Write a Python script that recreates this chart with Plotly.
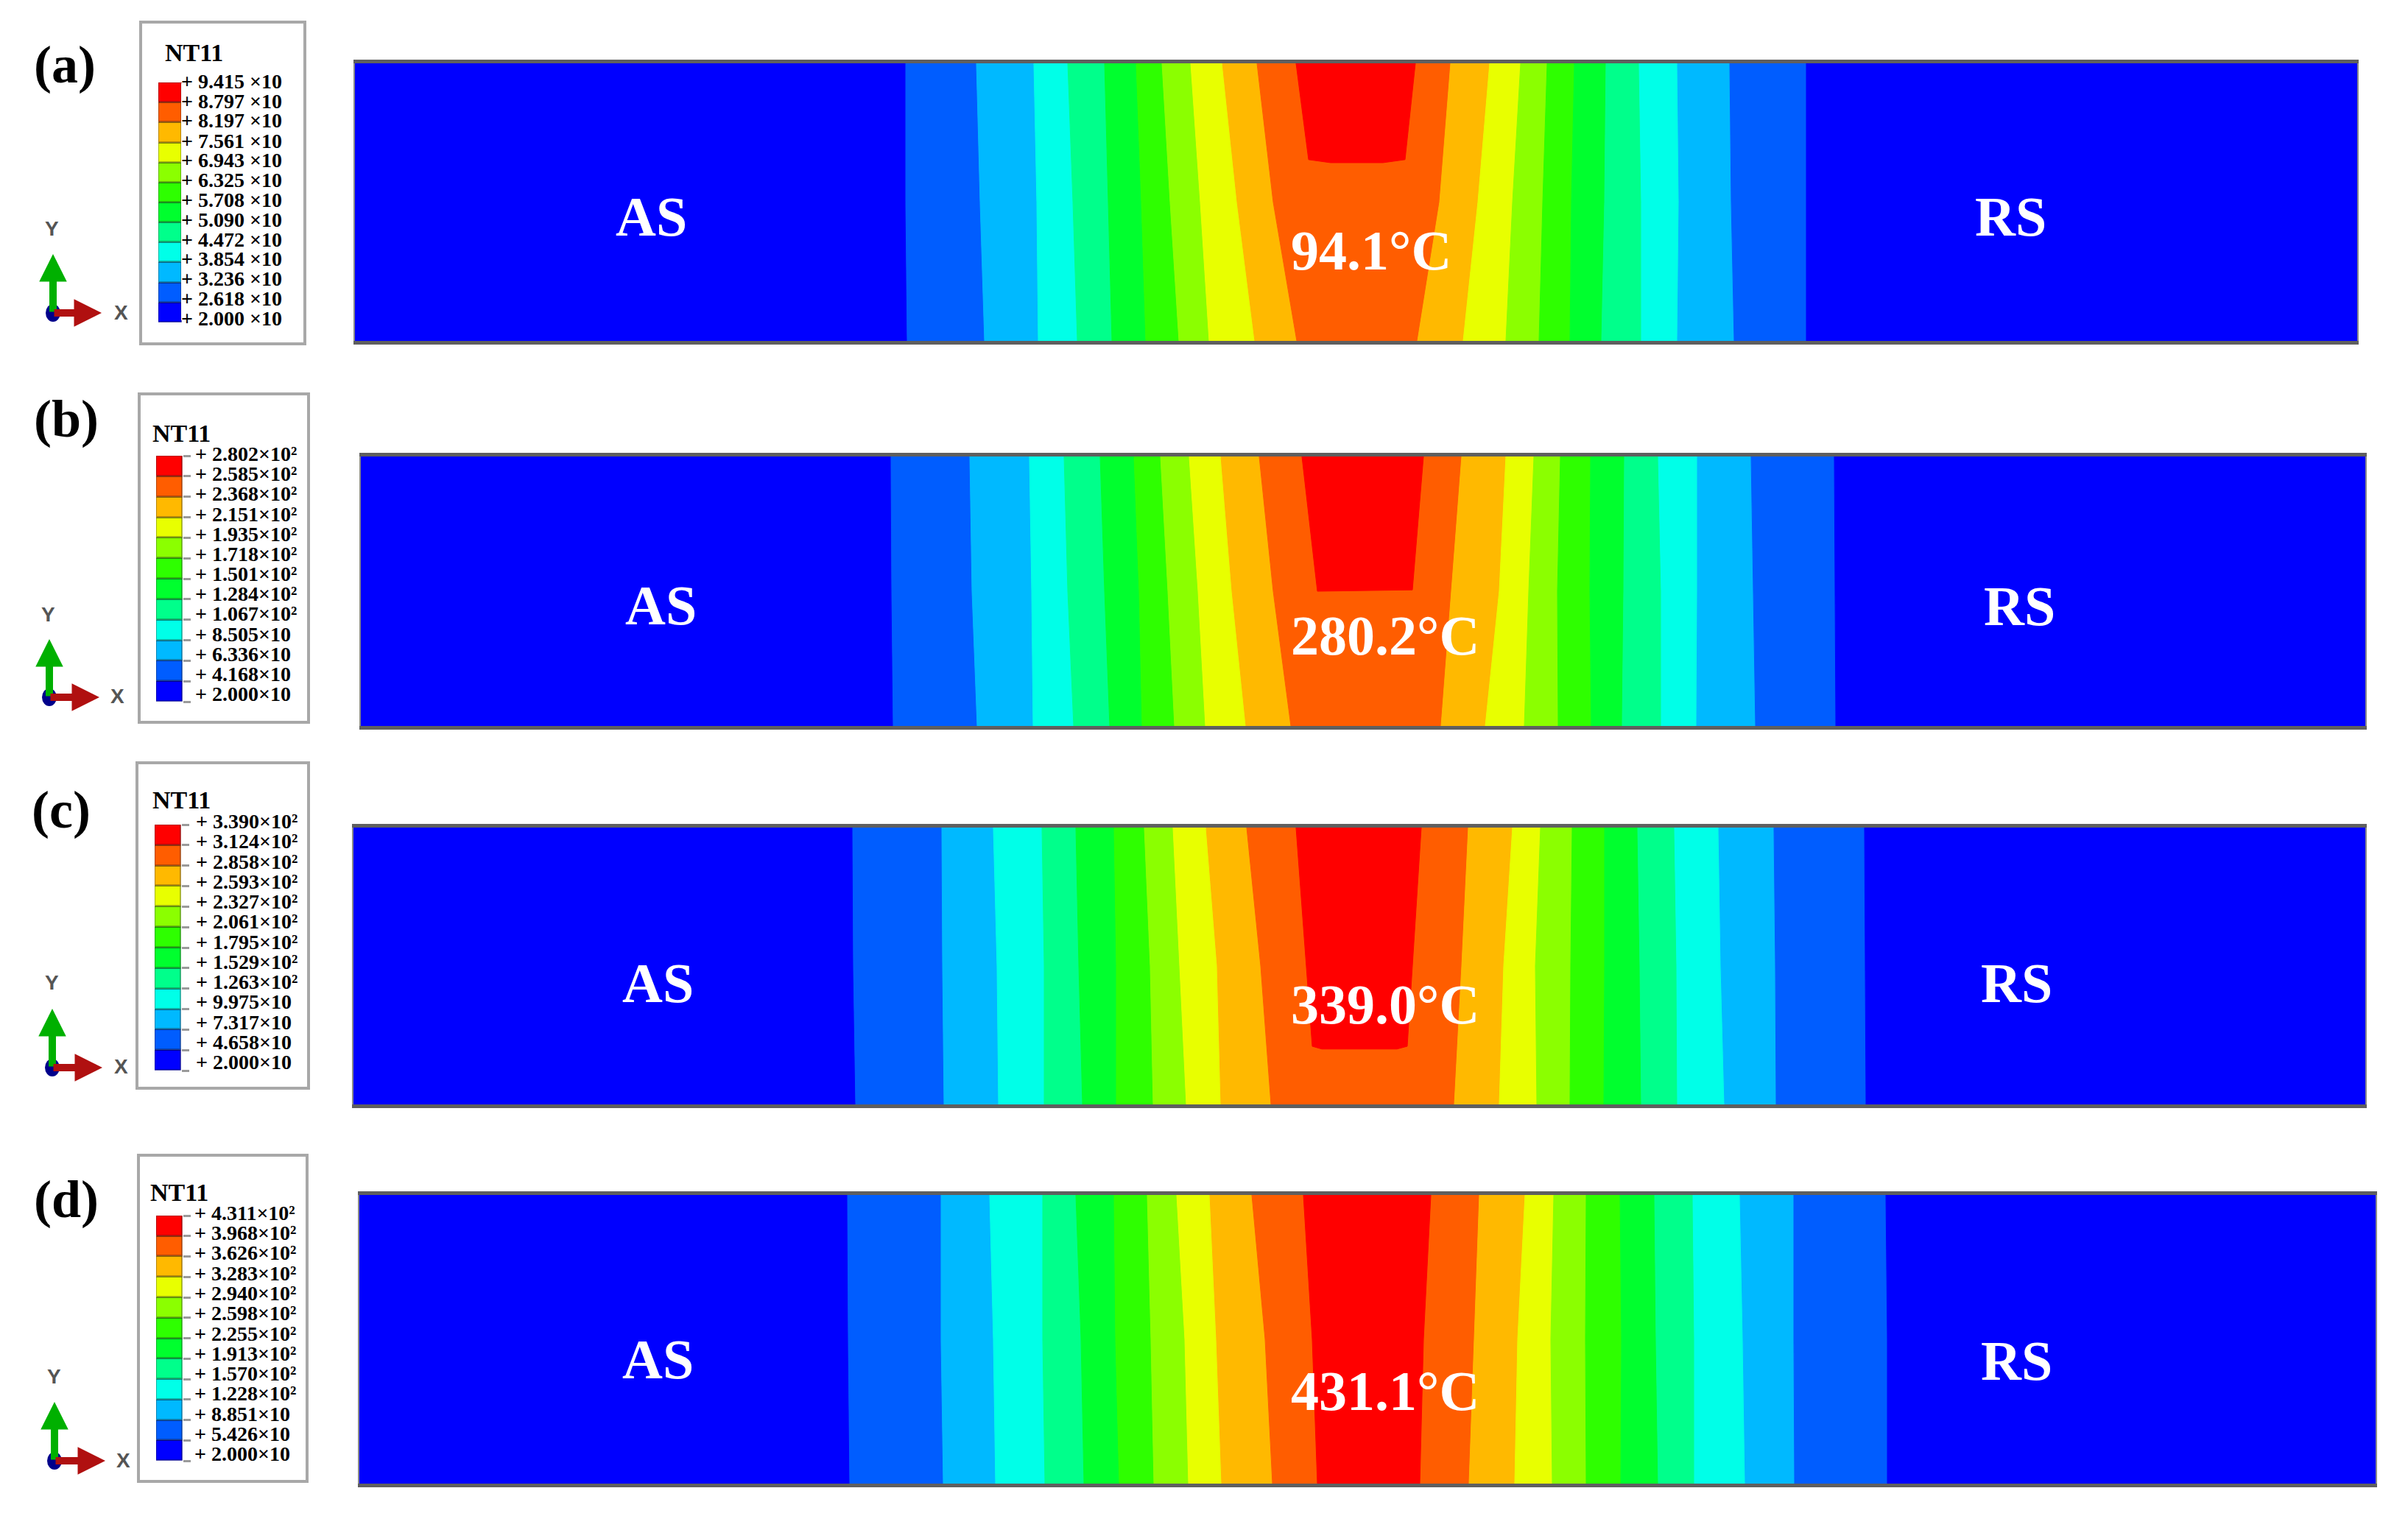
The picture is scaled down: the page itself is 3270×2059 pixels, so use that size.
import plotly.graph_objects as go

W, H = 3270, 2059

# contour band colours, coolest first
band_colors = ['#0000FF', '#005DFF', '#00B9FF', '#00FFE8', '#00FF8B', '#00FF2E',
               '#2EFF00', '#8BFF00', '#E8FF00', '#FFB900', '#FF5D00', '#FF0000']

# depth through the plate where isotherms were read (0 = top, 1 = bottom)
depth = [0, 0.5, 1]

# isotherm x positions in picture pixels, left to right, at each depth
a_top = [1230, 1326, 1404, 1450, 1500, 1543, 1578, 1617, 1660, 1707,
         1970, 2023, 2065, 2101, 2138, 2181, 2226, 2278, 2349, 2453]
a_mid = [1230, 1331, 1408, 1457, 1505, 1550, 1589, 1630, 1680, 1729,
         1955, 2007, 2054, 2095, 2134, 2179, 2229, 2280, 2351, 2453]
a_bot = [1232, 1337, 1410, 1463, 1510, 1556, 1601, 1642, 1704, 1761,
         1925, 1987, 2045, 2090, 2132, 2175, 2229, 2278, 2355, 2453]
b_top = [1210, 1317, 1398, 1445, 1494, 1540, 1576, 1615, 1658, 1710,
         1985, 2045, 2083, 2119, 2160, 2206, 2252, 2305, 2378, 2491]
b_mid = [1211, 1320, 1401, 1450, 1500, 1547, 1586, 1627, 1673, 1729,
         1971, 2036, 2076, 2115, 2159, 2205, 2256, 2305, 2381, 2492]
b_bot = [1213, 1327, 1403, 1458, 1507, 1551, 1595, 1637, 1692, 1753,
         1957, 2017, 2070, 2116, 2161, 2203, 2256, 2304, 2384, 2493]
c_top = [1158, 1279, 1349, 1415, 1461, 1513, 1554, 1593, 1638, 1693,
         1994, 2054, 2092, 2135, 2179, 2224, 2274, 2334, 2409, 2532]
c_mid = [1159, 1280, 1354, 1418, 1465, 1516, 1562, 1602, 1653, 1712,
         1985, 2042, 2085, 2133, 2179, 2227, 2277, 2337, 2411, 2533]
c_bot = [1162, 1282, 1356, 1418, 1470, 1516, 1566, 1611, 1658, 1726,
         1975, 2036, 2087, 2132, 2178, 2229, 2278, 2342, 2412, 2534]
d_top = [1151, 1278, 1344, 1416, 1461, 1513, 1558, 1598, 1643, 1700,
         2009, 2071, 2110, 2154, 2200, 2247, 2299, 2363, 2436, 2561]
d_mid = [1152, 1278, 1349, 1416, 1468, 1515, 1563, 1609, 1652, 1718,
         2002, 2061, 2106, 2153, 2202, 2249, 2301, 2367, 2436, 2563]
d_bot = [1154, 1281, 1352, 1419, 1472, 1520, 1567, 1614, 1659, 1728,
         1995, 2057, 2108, 2154, 2201, 2252, 2301, 2370, 2437, 2563]

# hottest zone outline
a_red_x = [1760, 1777, 1807, 1878, 1908, 1922]
a_red_y = [0, 0.347, 0.358, 0.358, 0.347, 0]
b_red_x = [1768, 1789, 1918, 1933]
b_red_y = [0, 0.5, 0.495, 0]
c_red_x = [1760, 1782, 1795, 1897, 1911, 1930]
c_red_y = [0, 0.79, 0.80, 0.80, 0.79, 0]
d_red_x = [1770, 1782, 1789, 1928, 1933, 1943]
d_red_y = [0, 0.5, 1, 1, 0.5, 0]

# legend levels, coolest first
a_levels = [20.00, 26.18, 32.36, 38.54, 44.72, 50.90, 57.08, 63.25, 69.43, 75.61, 81.97, 87.97, 94.15]
b_levels = [20.00, 41.68, 63.36, 85.05, 106.7, 128.4, 150.1, 171.8, 193.5, 215.1, 236.8, 258.5, 280.2]
c_levels = [20.00, 46.58, 73.17, 99.75, 126.3, 152.9, 179.5, 206.1, 232.7, 259.3, 285.8, 312.4, 339.0]
d_levels = [20.00, 54.26, 88.51, 122.8, 157.0, 191.3, 225.5, 259.8, 294.0, 328.3, 362.6, 396.8, 431.1]

a_labels = ['+ 2.000 ×10', '+ 2.618 ×10', '+ 3.236 ×10', '+ 3.854 ×10', '+ 4.472 ×10', '+ 5.090 ×10', '+ 5.708 ×10',
            '+ 6.325 ×10', '+ 6.943 ×10', '+ 7.561 ×10', '+ 8.197 ×10', '+ 8.797 ×10', '+ 9.415 ×10']
b_labels = ['+ 2.000×10', '+ 4.168×10', '+ 6.336×10', '+ 8.505×10', '+ 1.067×10²', '+ 1.284×10²', '+ 1.501×10²',
            '+ 1.718×10²', '+ 1.935×10²', '+ 2.151×10²', '+ 2.368×10²', '+ 2.585×10²', '+ 2.802×10²']
c_labels = ['+ 2.000×10', '+ 4.658×10', '+ 7.317×10', '+ 9.975×10', '+ 1.263×10²', '+ 1.529×10²', '+ 1.795×10²',
            '+ 2.061×10²', '+ 2.327×10²', '+ 2.593×10²', '+ 2.858×10²', '+ 3.124×10²', '+ 3.390×10²']
d_labels = ['+ 2.000×10', '+ 5.426×10', '+ 8.851×10', '+ 1.228×10²', '+ 1.570×10²', '+ 1.913×10²', '+ 2.255×10²',
            '+ 2.598×10²', '+ 2.940×10²', '+ 3.283×10²', '+ 3.626×10²', '+ 3.968×10²', '+ 4.311×10²']

peak_labels = ['94.1°C', '280.2°C', '339.0°C', '431.1°C']
panel_labels = ['(a)', '(b)', '(c)', '(d)']

# page layout, all in picture pixels
panels = [
    dict(iso=(a_top, a_mid, a_bot), red=(a_red_x, a_red_y), levels=a_levels, labels=a_labels,
         plate=(482, 3201, 86, 463), as_pos=(884, 0.552), rs_pos=(2730, 0.552), peak_pos=(1862, 0.674),
         tag=(88, 88), box=(191, 414, 30, 467), title=(263, 72), bar=(215, 247, 112, 438),
         text=(246, 113, 435), ticklen=0, origin=(72, 425), y_tip=345, x_tip=138, y_lab=(70, 310), x_lab=(164, 424)),
    dict(iso=(b_top, b_mid, b_bot), red=(b_red_x, b_red_y), levels=b_levels, labels=b_labels,
         plate=(490, 3212, 620, 986), as_pos=(897, 0.552), rs_pos=(2742, 0.555), peak_pos=(1881, 0.664),
         tag=(90, 569), box=(189, 419, 535, 981), title=(246, 588), bar=(212, 248, 619, 953),
         text=(265, 619, 945), ticklen=10, origin=(67, 947), y_tip=868, x_tip=135, y_lab=(65, 834), x_lab=(159, 945)),
    dict(iso=(c_top, c_mid, c_bot), red=(c_red_x, c_red_y), levels=c_levels, labels=c_labels,
         plate=(480, 3212, 1124, 1500), as_pos=(893, 0.561), rs_pos=(2738, 0.561), peak_pos=(1881, 0.638),
         tag=(83, 1100), box=(186, 419, 1036, 1478), title=(247, 1086), bar=(210, 246, 1120, 1454),
         text=(266, 1118, 1445), ticklen=10, origin=(71, 1450), y_tip=1370, x_tip=139, y_lab=(70, 1334), x_lab=(164, 1448)),
    dict(iso=(d_top, d_mid, d_bot), red=(d_red_x, d_red_y), levels=d_levels, labels=d_labels,
         plate=(488, 3226, 1623, 2015), as_pos=(893, 0.569), rs_pos=(2738, 0.574), peak_pos=(1881, 0.679),
         tag=(90, 1629), box=(188, 417, 1569, 2012), title=(244, 1619), bar=(212, 248, 1651, 1984),
         text=(264, 1650, 1977), ticklen=10, origin=(74, 1984), y_tip=1904, x_tip=143, y_lab=(73, 1869), x_lab=(167, 1983)),
]

# band colour index for the strips left to right across a plate
strip_order = list(range(11)) + list(range(9, -1, -1))

SERIF = 'Liberation Serif'
fig = go.Figure()
layout = {}
annotations = []
shapes = []


def px(x):
    return x / W


def py(y):
    return 1 - y / H


def add_axes(n, x0, x1, y0, y1, xrange, yrange):
    layout[f'xaxis{n}'] = dict(domain=[px(x0), px(x1)], range=xrange, anchor=f'y{n}', visible=False)
    layout[f'yaxis{n}'] = dict(domain=[py(y1), py(y0)], range=yrange, anchor=f'x{n}', visible=False)


def page_text(text, x, y, family, size, color):
    annotations.append(dict(text=text, x=px(x), y=py(y), xref='paper', yref='paper', xanchor='center',
                            yanchor='middle', showarrow=False, font=dict(family=family, size=size, color=color)))


axis_id = 2
for p in panels:
    left, right, top, bot = p['plate']
    plate_id, bar_id, text_id = axis_id, axis_id + 1, axis_id + 2
    axis_id += 3

    # temperature field
    add_axes(plate_id, left, right, top, bot, [left, right], [1, 0])
    layout[f'xaxis{plate_id}'].update(visible=True, showgrid=False, zeroline=False, showticklabels=False, ticks='',
                                      showline=True, mirror=True, linecolor='#5f5f5f', linewidth=5)
    layout[f'yaxis{plate_id}'].update(visible=True, showgrid=False, zeroline=False, showticklabels=False, ticks='',
                                      showline=True, mirror=True, linecolor='#8a8a8a', linewidth=2)
    levels_at = list(zip(*p['iso']))
    edges = [[left] * 3] + [list(v) for v in levels_at] + [[right] * 3]
    for i, c in enumerate(strip_order):
        xs = edges[i] + edges[i + 1][::-1]
        ys = depth + depth[::-1]
        fig.add_trace(go.Scatter(x=xs, y=ys, mode='lines', fill='toself', fillcolor=band_colors[c],
                                 line=dict(color=band_colors[c], width=1), hoverinfo='skip', showlegend=False,
                                 xaxis=f'x{plate_id}', yaxis=f'y{plate_id}'))
    red_x, red_y = p['red']
    fig.add_trace(go.Scatter(x=red_x, y=red_y, mode='lines', fill='toself', fillcolor=band_colors[-1],
                             line=dict(color=band_colors[-1], width=1), hoverinfo='skip', showlegend=False,
                             xaxis=f'x{plate_id}', yaxis=f'y{plate_id}'))

    plate_text = [('AS', p['as_pos']), ('RS', p['rs_pos']), (peak_labels[panels.index(p)], p['peak_pos'])]
    for txt, (tx, ty) in plate_text:
        annotations.append(dict(text=f'<b>{txt}</b>', x=tx, y=ty, xref=f'x{plate_id}', yref=f'y{plate_id}',
                                xanchor='center', yanchor='middle', showarrow=False,
                                font=dict(family=SERIF, size=76, color='white')))

    # legend box and colour bar
    bx0, bx1, by0, by1 = p['box']
    shapes.append(dict(type='rect', xref='paper', yref='paper', x0=px(bx0), x1=px(bx1), y0=py(by0), y1=py(by1),
                       line=dict(color='#a8a8a8', width=4), fillcolor='white', layer='below'))
    page_text('<b>NT11</b>', p['title'][0], p['title'][1], SERIF, 34, 'black')

    lv = p['levels']
    bar_x0, bar_x1, bar_y0, bar_y1 = p['bar']
    add_axes(bar_id, bar_x0, bar_x1, bar_y0, bar_y1, [-0.5, 0.5], [lv[0], lv[-1]])
    layout[f'yaxis{bar_id}'].update(visible=True, side='right', showgrid=False, zeroline=False, showline=False,
                                    showticklabels=False, tickvals=lv, ticks='outside' if p['ticklen'] else '',
                                    ticklen=p['ticklen'], tickcolor='#9a9a9a', tickwidth=3)
    fig.add_trace(go.Bar(x=[0] * 12, y=[hi - lo for lo, hi in zip(lv[:-1], lv[1:])], base=lv[:-1], width=1,
                         marker=dict(color=band_colors, line=dict(color='rgba(0,0,0,0.28)', width=3)),
                         hoverinfo='skip', showlegend=False, xaxis=f'x{bar_id}', yaxis=f'y{bar_id}'))

    tx0, ty0, ty1 = p['text']
    add_axes(text_id, tx0, tx0 + 150, ty0, ty1, [0, 1], [lv[0], lv[-1]])
    fig.add_trace(go.Scatter(x=[0] * 13, y=lv, text=[f'<b>{s}</b>' for s in p['labels']], mode='text',
                             textposition='middle right', textfont=dict(family=SERIF, size=28, color='black'),
                             cliponaxis=False, hoverinfo='skip', showlegend=False,
                             xaxis=f'x{text_id}', yaxis=f'y{text_id}'))

    # panel letter
    page_text(f'<b>{panel_labels[panels.index(p)]}</b>', p['tag'][0], p['tag'][1], SERIF, 72, 'black')

    # axis triad
    ox, oy = p['origin']
    annotations.append(dict(text='', x=px(ox), y=py(p['y_tip']), xref='paper', yref='paper', ax=0, ay=oy - p['y_tip'],
                            showarrow=True, arrowhead=2, arrowsize=0.75, arrowwidth=10, arrowcolor='#00B000'))
    annotations.append(dict(text='', x=px(p['x_tip']), y=py(oy), xref='paper', yref='paper', ax=ox - p['x_tip'], ay=0,
                            showarrow=True, arrowhead=2, arrowsize=0.75, arrowwidth=10, arrowcolor='#B01010'))
    shapes.append(dict(type='circle', xref='paper', yref='paper', x0=px(ox - 10), x1=px(ox + 10),
                       y0=py(oy - 12), y1=py(oy + 12), fillcolor='#00008B', line=dict(width=0), layer='above'))
    page_text('<b>Y</b>', p['y_lab'][0], p['y_lab'][1], 'Liberation Sans', 28, '#555555')
    page_text('<b>X</b>', p['x_lab'][0], p['x_lab'][1], 'Liberation Sans', 28, '#555555')

fig.update_layout(width=W, height=H, margin=dict(l=0, r=0, t=0, b=0), paper_bgcolor='white', plot_bgcolor='white',
                  barmode='overlay', bargap=0, showlegend=False, annotations=annotations, shapes=shapes, **layout)

fig.write_html('out.html', config={'displayModeBar': False}, post_script="document.body.style.margin='0';")
